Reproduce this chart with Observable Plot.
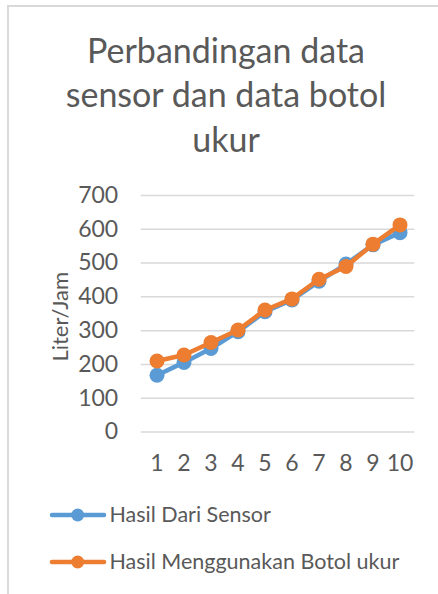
<!DOCTYPE html>
<html>
<head>
<meta charset="utf-8">
<script src="https://cdn.jsdelivr.net/npm/d3@7"></script>
<script src="https://cdn.jsdelivr.net/npm/@observablehq/plot@0.6"></script>
<style>
  html, body { margin: 0; padding: 0; background: #fff; }
  body { font-family: Lato, "Open Sans", sans-serif; color: #595959; }
  #wrap { position: relative; width: 438px; height: 594px; overflow: hidden; background: #fff; }
  #frame { position: absolute; left: 7px; top: 5px; width: 460px; height: 620px;
           border-left: 2px solid #d9d9d9; border-top: 2px solid #d9d9d9; box-sizing: border-box; }
  .title { position: absolute; left: 0; width: 452px; text-align: center; font-size: 34px;
           line-height: 1; white-space: nowrap; color: #595959; }
  #chart { position: absolute; left: 0; top: 180px; }
  .leg { position: absolute; left: 0; height: 30px; width: 438px; }
  .leg svg { position: absolute; left: 0; top: 0; }
  .leg span { position: absolute; left: 109.5px; font-size: 21.5px; line-height: 1; white-space: nowrap; color: #595959; }
</style>
</head>
<body>
<div id="wrap">
  <div id="frame"></div>
  <div id="titles"></div>
  <div id="chart"></div>
  <div id="legend"></div>
</div>
<script>
// ---- data ----
const titleLines = ["Perbandingan data", "sensor dan data botol", "ukur"];
const yLabel = "Liter/Jam";
const categories = ["1", "2", "3", "4", "5", "6", "7", "8", "9", "10"];
const seriesNames = ["Hasil Dari Sensor", "Hasil Menggunakan Botol ukur"];
const sensorValues = [168, 206, 247, 297, 356, 391, 446, 497, 554, 590];
const botolValues  = [210, 228, 265, 302, 361, 394, 452, 490, 556, 613];
const yTicks = [0, 100, 200, 300, 400, 500, 600, 700];
const colors = ["#5B9BD5", "#ED7D31"];

// ---- title ----
const titleTops = [32.5, 76.5, 121.5];
const titles = document.getElementById("titles");
titleLines.forEach((t, i) => {
  const d = document.createElement("div");
  d.className = "title";
  d.style.top = titleTops[i] + "px";
  d.textContent = t;
  titles.appendChild(d);
});

// ---- chart ----
const sensorData = categories.map((c, i) => ({x: c, y: sensorValues[i]}));
const botolData = categories.map((c, i) => ({x: c, y: botolValues[i]}));

const plot = Plot.plot({
  width: 438,
  height: 300,
  marginTop: 15,
  marginBottom: 48.5,
  marginLeft: 140.7,
  marginRight: 23.7,
  style: {fontFamily: "Lato, 'Open Sans', sans-serif", fontSize: "23px", color: "#595959", background: "transparent", overflow: "visible"},
  x: {type: "band", domain: categories, padding: 0, label: null, tickSize: 0, tickPadding: 23},
  y: {domain: [0, 700], ticks: yTicks, label: null, tickSize: 0, tickPadding: 23},
  marks: [
    Plot.ruleY(yTicks, {stroke: "#d9d9d9", strokeWidth: 1.5}),
    Plot.line(sensorData, {x: "x", y: "y", stroke: colors[0], strokeWidth: 4.5, strokeLinejoin: "round", strokeLinecap: "round"}),
    Plot.dot(sensorData, {x: "x", y: "y", r: 7.5, fill: colors[0], stroke: "none"}),
    Plot.line(botolData, {x: "x", y: "y", stroke: colors[1], strokeWidth: 4.5, strokeLinejoin: "round", strokeLinecap: "round"}),
    Plot.dot(botolData, {x: "x", y: "y", r: 7.5, fill: colors[1], stroke: "none"}),
    Plot.text([yLabel], {frameAnchor: "left", textAnchor: "middle", dx: -80, dy: 3, rotate: -90, fontSize: 22, fill: "#595959"})
  ]
});
document.getElementById("chart").appendChild(plot);

// ---- legend ----
const legTops = [500, 546.7];
const legend = document.getElementById("legend");
seriesNames.forEach((name, i) => {
  const row = document.createElement("div");
  row.className = "leg";
  row.style.top = legTops[i] + "px";
  const ns = "http://www.w3.org/2000/svg";
  const svg = document.createElementNS(ns, "svg");
  svg.setAttribute("width", 120); svg.setAttribute("height", 30);
  const ln = document.createElementNS(ns, "line");
  ln.setAttribute("x1", 52); ln.setAttribute("x2", 104); ln.setAttribute("y1", 15); ln.setAttribute("y2", 15);
  ln.setAttribute("stroke", colors[i]); ln.setAttribute("stroke-width", 4.5); ln.setAttribute("stroke-linecap", "round");
  const c = document.createElementNS(ns, "circle");
  c.setAttribute("cx", 77.7); c.setAttribute("cy", 15); c.setAttribute("r", 6.5); c.setAttribute("fill", colors[i]);
  svg.appendChild(ln); svg.appendChild(c);
  const sp = document.createElement("span");
  sp.style.top = (4) + "px";
  sp.textContent = name;
  row.appendChild(svg); row.appendChild(sp);
  legend.appendChild(row);
});
</script>
</body>
</html>
